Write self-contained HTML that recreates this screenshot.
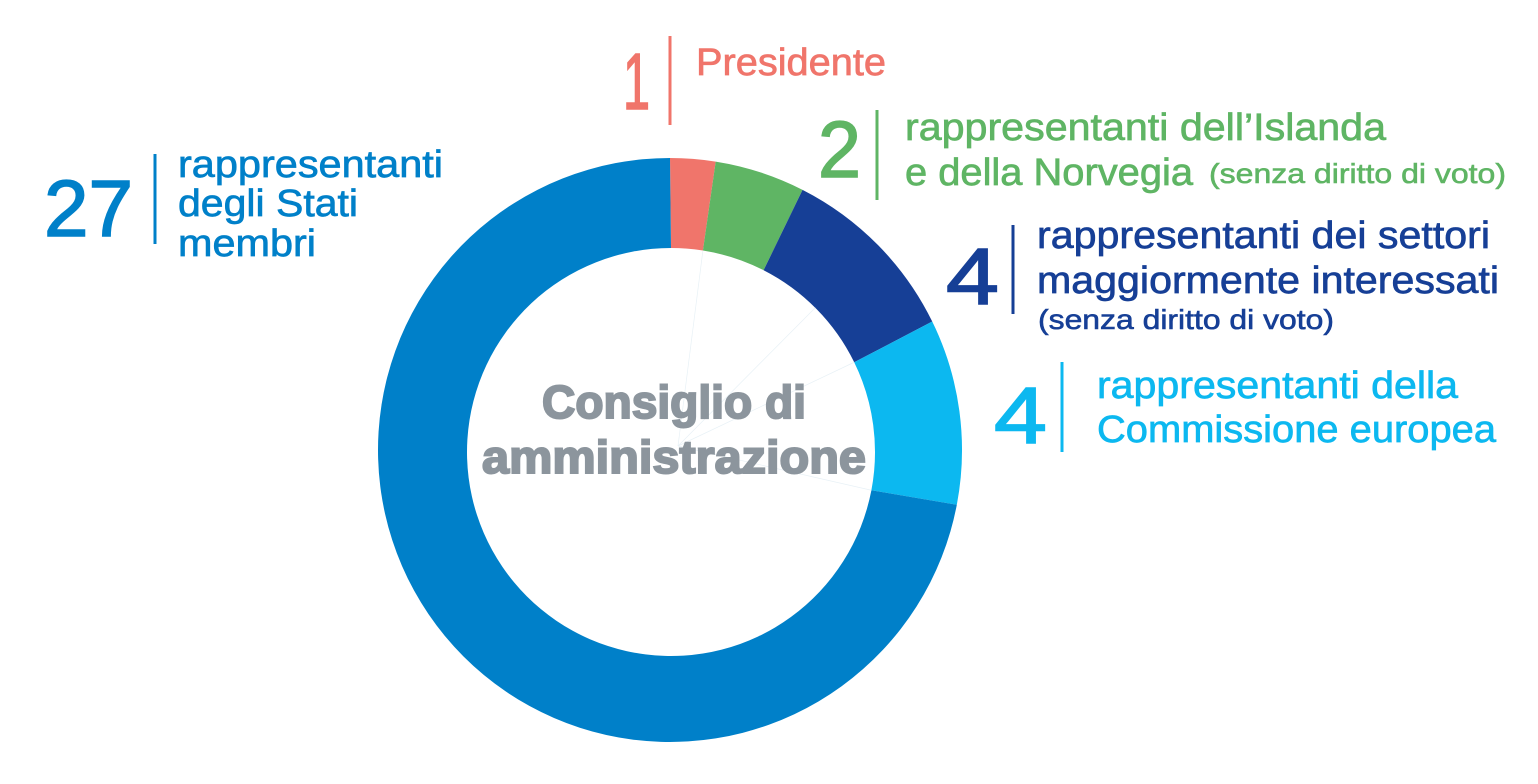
<!DOCTYPE html>
<html lang="it">
<head>
<meta charset="utf-8">
<title>Consiglio di amministrazione</title>
<style>
  html, body { margin: 0; padding: 0; background: #fff; }
  svg { display: block; font-family: "Liberation Sans", sans-serif; }
  .n { font-size: 80px; stroke-width: 1.6px; }
  .t { font-size: 38px; stroke-width: 0.7px; }
  .s { font-size: 28px; stroke-width: 0.6px; }
  .c { font-size: 46px; font-weight: bold; fill: #8c959d; stroke: #8c959d; stroke-width: 2px; }
  .red text { stroke: #f0756b; } .green text { stroke: #5fb564; } .navy text { stroke: #163f96; }
  .cyan text { stroke: #0cb8f0; } .blue text { stroke: #0080c9; }
</style>
</head>
<body>
<svg id="chart" width="1538" height="784" viewBox="0 0 1538 784" xmlns="http://www.w3.org/2000/svg">
  <g id="slices"></g>
  <g id="guides"></g>

  <g>
    <text class="c" x="542" y="418" textLength="264" lengthAdjust="spacingAndGlyphs">Consiglio di</text>
    <text class="c" x="482" y="473" textLength="384" lengthAdjust="spacingAndGlyphs">amministrazione</text>
  </g>

  <g class="red" fill="#f0756b">
    <text class="n" x="623" y="109" textLength="27" lengthAdjust="spacingAndGlyphs">1</text>
    <rect x="668.5" y="36" width="3" height="89"></rect>
    <text class="t" x="696" y="75" textLength="190" lengthAdjust="spacingAndGlyphs">Presidente</text>
  </g>

  <g class="green" fill="#5fb564">
    <text class="n" x="818" y="177" textLength="43" lengthAdjust="spacingAndGlyphs">2</text>
    <rect x="875.5" y="110" width="3" height="90"></rect>
    <text class="t" x="905" y="140" textLength="481" lengthAdjust="spacingAndGlyphs">rappresentanti dell’Islanda</text>
    <text class="t" x="905" y="185" textLength="288" lengthAdjust="spacingAndGlyphs">e della Norvegia</text>
    <text class="s" x="1209" y="183" textLength="297" lengthAdjust="spacingAndGlyphs">(senza diritto di voto)</text>
  </g>

  <g class="navy" fill="#163f96">
    <text class="n" x="946" y="304" textLength="53" lengthAdjust="spacingAndGlyphs">4</text>
    <rect x="1011.5" y="225" width="3" height="89"></rect>
    <text class="t" x="1037" y="248" textLength="453" lengthAdjust="spacingAndGlyphs">rappresentanti dei settori</text>
    <text class="t" x="1037" y="293" textLength="462" lengthAdjust="spacingAndGlyphs">maggiormente interessati</text>
    <text class="s" x="1038" y="329" textLength="296" lengthAdjust="spacingAndGlyphs">(senza diritto di voto)</text>
  </g>

  <g class="cyan" fill="#0cb8f0">
    <text class="n" x="994" y="443" textLength="53" lengthAdjust="spacingAndGlyphs">4</text>
    <rect x="1060.5" y="362" width="3" height="90"></rect>
    <text class="t" x="1097" y="398" textLength="361" lengthAdjust="spacingAndGlyphs">rappresentanti della</text>
    <text class="t" x="1097" y="442" textLength="399" lengthAdjust="spacingAndGlyphs">Commissione europea</text>
  </g>

  <g class="blue" fill="#0080c9">
    <text class="n" x="44" y="236" textLength="89" lengthAdjust="spacingAndGlyphs">27</text>
    <rect x="153.5" y="154" width="3" height="90"></rect>
    <text class="t" x="178" y="177" textLength="265" lengthAdjust="spacingAndGlyphs">rappresentanti</text>
    <text class="t" x="178" y="216" textLength="180" lengthAdjust="spacingAndGlyphs">degli Stati</text>
    <text class="t" x="178" y="256" textLength="138" lengthAdjust="spacingAndGlyphs">membri</text>
  </g>
</svg>
<script>
// Slice sizes as read from the drawn arcs (the picture gives the members' slice about 29 units).
const categories = ['president', 'iceland-norway', 'sectors', 'commission', 'member-states'];
const sliceValues = [1, 2, 4.1, 4.1, 28.8];
const sliceColors = ['#f0756b', '#5fb564', '#163f96', '#0cb8f0', '#0080c9'];
// Faint leader lines, positioned in the same units as the slices (running total from the top).
const guideValues = [1, 5, 7.1, 11.2];

const NS = 'http://www.w3.org/2000/svg';
const cx = 670, cy = 450, outerR = 292;
const holeX = 671, holeY = 452, innerR = 204;
const total = sliceValues.reduce(function (a, b) { return a + b; }, 0);

function angleScale(v) { return v / total * Math.PI * 2; }
function outerPoint(a) { return [cx + outerR * Math.sin(a), cy - outerR * Math.cos(a)]; }
function innerPoint(a) { return [holeX + innerR * Math.sin(a), holeY - innerR * Math.cos(a)]; }
function arcPath(a0, a1) {
  const large = a1 - a0 > Math.PI ? 1 : 0;
  const p0 = outerPoint(a0), p1 = outerPoint(a1);
  const p2 = innerPoint(a1), p3 = innerPoint(a0);
  return 'M' + p0[0] + ' ' + p0[1] +
    'A' + outerR + ' ' + outerR + ' 0 ' + large + ' 1 ' + p1[0] + ' ' + p1[1] +
    'L' + p2[0] + ' ' + p2[1] +
    'A' + innerR + ' ' + innerR + ' 0 ' + large + ' 0 ' + p3[0] + ' ' + p3[1] + 'Z';
}

const sliceGroup = document.getElementById('slices');
const guideGroup = document.getElementById('guides');
let cumulative = 0;
sliceValues.forEach(function (v, i) {
  const a0 = angleScale(cumulative);
  cumulative += v;
  const a1 = angleScale(cumulative);
  const path = document.createElementNS(NS, 'path');
  path.setAttribute('d', arcPath(a0, a1));
  path.setAttribute('fill', sliceColors[i]);
  
  
  sliceGroup.appendChild(path);
});

guideValues.forEach(function (v) {
  const end = innerPoint(angleScale(v));
  const guide = document.createElementNS(NS, 'line');
  guide.setAttribute('x1', cx + 8);
  guide.setAttribute('y1', cy - 4);
  guide.setAttribute('x2', end[0]);
  guide.setAttribute('y2', end[1]);
  guide.setAttribute('stroke', '#e8f1f6');
  guide.setAttribute('stroke-width', '0.7');
  
  
  guideGroup.appendChild(guide);
});
</script>
</body>
</html>
